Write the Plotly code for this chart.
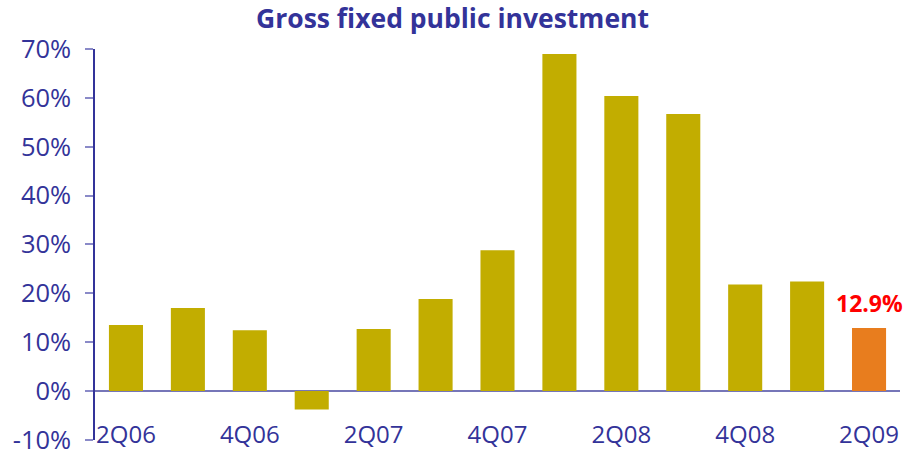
import plotly.graph_objects as go

# Quarterly growth of gross fixed public investment (% y/y)
quarters = ["2Q06", "3Q06", "4Q06", "1Q07", "2Q07", "3Q07", "4Q07",
            "1Q08", "2Q08", "3Q08", "4Q08", "1Q09", "2Q09"]
growth = [13.5, 17.0, 12.4, -3.8, 12.7, 18.8, 28.8,
          69.0, 60.4, 56.7, 21.8, 22.4, 12.9]
tick_labels = ["2Q06", "4Q06", "2Q07", "4Q07", "2Q08", "4Q08", "2Q09"]
y_ticks = [-10, 0, 10, 20, 30, 40, 50, 60, 70]
y_tick_text = [f"{v}%" for v in y_ticks]

NAVY = "#333399"
OLIVE = "#C2AD00"
ORANGE = "#E87D1E"
FONT = "Open Sans"

bar_colors = [ORANGE if q == quarters[-1] else OLIVE for q in quarters]

fig = go.Figure()
fig.add_trace(go.Bar(
    x=quarters, y=growth,
    marker=dict(color=bar_colors, line=dict(width=0)),
    hoverinfo="x+y",
))

# Highlight the latest quarter's value
fig.add_annotation(
    x=quarters[-1], y=growth[-1],
    text=f"{growth[-1]:.1f}%",
    showarrow=False, yanchor="bottom", yshift=7,
    font=dict(family=FONT, size=23, color="#FF0000", weight="bold"),
)

fig.update_layout(
    width=905, height=456,
    margin=dict(l=95, r=5, t=49, b=16, autoexpand=False),
    paper_bgcolor="white", plot_bgcolor="white",
    bargap=0.45,
    showlegend=False,
    title=dict(
        text="<b>Gross fixed public investment</b>",
        x=0.5, xanchor="center", y=0.96, yanchor="middle",
        xref="container",
        font=dict(family=FONT, size=26.5, color=NAVY),
    ),
    xaxis=dict(
        type="category", automargin=False,
        categoryorder="array", categoryarray=quarters,
        range=[-0.5, len(quarters) - 0.5],
        tickmode="array", tickvals=tick_labels, ticktext=tick_labels,
        anchor="free", position=0.055,
        showline=False, showgrid=False, zeroline=False, ticks="",
        tickfont=dict(family=FONT, size=24, color=NAVY),
    ),
    yaxis=dict(
        range=[-10.05, 70], automargin=False,
        tickmode="array", tickvals=y_ticks, ticktext=y_tick_text,
        ticklabeloverflow="allow",
        showgrid=False,
        showline=True, linecolor=NAVY, linewidth=1.5,
        ticks="outside", ticklen=8, tickwidth=1.5, tickcolor="#8A8AC8",
        ticklabelstandoff=9,
        zeroline=True, zerolinecolor="#7676B8", zerolinewidth=2,
        tickfont=dict(family=FONT, size=25.5, color=NAVY),
    ),
)

fig.write_html("out.html")
